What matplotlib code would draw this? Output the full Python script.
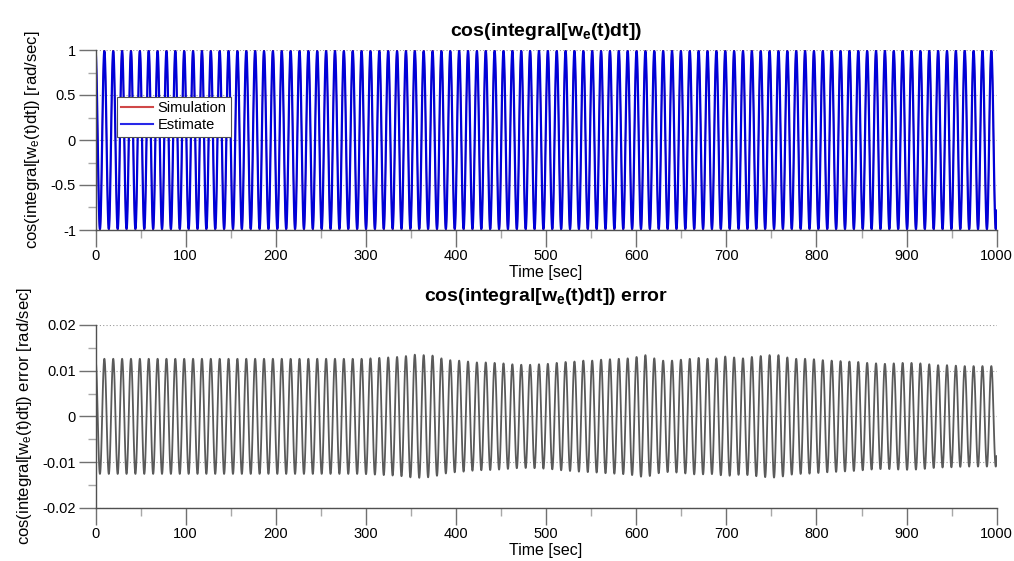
import numpy as np
import matplotlib
matplotlib.use("Agg")
import matplotlib.pyplot as plt
from matplotlib.ticker import MultipleLocator, FormatStrFormatter

plt.rcParams['font.family'] = ['Liberation Sans', 'DejaVu Sans']
plt.rcParams['mathtext.default'] = 'regular'
plt.rcParams['axes.unicode_minus'] = False
plt.rcParams['path.simplify'] = False

# Electrical speed (rad/s) driving the phase, and simulation length
omega_e = 0.6384
t_end = 1000.0

# Peak amplitude of the cos error, one value per electrical cycle
err_amp = [
    0.0126, 0.0126, 0.0126, 0.0126, 0.0126, 0.0126, 0.0126, 0.0126, 0.0126, 0.0126,
    0.0126, 0.0126, 0.0126, 0.0126, 0.0126, 0.0126, 0.0126, 0.0126, 0.0126, 0.0126,
    0.0126, 0.0126, 0.0126, 0.0126, 0.0126, 0.0126, 0.0126, 0.0126, 0.0126, 0.0126,
    0.0126, 0.0127, 0.0128, 0.0129, 0.0130, 0.0132, 0.0135, 0.0134, 0.0133, 0.0127,
    0.0123, 0.0122, 0.0120, 0.0118, 0.0118, 0.0117, 0.0116, 0.0114, 0.0113, 0.0113,
    0.0114, 0.0115, 0.0117, 0.0119, 0.0120, 0.0122, 0.0122, 0.0124, 0.0125, 0.0126,
    0.0127, 0.0130, 0.0134, 0.0127, 0.0122, 0.0122, 0.0124, 0.0126, 0.0128, 0.0126,
    0.0127, 0.0131, 0.0129, 0.0127, 0.0130, 0.0132, 0.0134, 0.0134, 0.0129, 0.0126,
    0.0126, 0.0125, 0.0123, 0.0122, 0.0121, 0.0120, 0.0119, 0.0117, 0.0116, 0.0115,
    0.0116, 0.0117, 0.0117, 0.0116, 0.0114, 0.0112, 0.0112, 0.0111, 0.0110, 0.0110,
    0.0110, 0.0110,
]

legend_labels = ['Simulation', 'Estimate']
x_ticks_major = 100
x_ticks_minor = 50

# Time base and phase = integral of w_e
t = np.linspace(0.0, t_end, 20001)
theta = np.concatenate([[0.0], np.cumsum(np.full(len(t) - 1, omega_e) * np.diff(t))])
peak_t = np.arange(len(err_amp)) * 2 * np.pi / omega_e
amp = np.interp(t, peak_t, err_amp)

sim = np.cos(theta)
err = amp * np.cos(theta)
est = sim - err

W, H = 1014, 561
fig = plt.figure(figsize=(W / 100, H / 100), dpi=100)

def px_axes(x0, y0, x1, y1):
    return fig.add_axes([x0 / W, 1 - y1 / H, (x1 - x0) / W, (y1 - y0) / H])

ax1 = px_axes(95.5, 50, 996.7, 230)
ax2 = px_axes(95.5, 325, 996.7, 507.7)

def style(ax, ymaj, ymin, fmt):
    for s in ('top', 'right'):
        ax.spines[s].set_visible(False)
    for s in ('left', 'bottom'):
        ax.spines[s].set_color('#505050')
        ax.spines[s].set_linewidth(1.0)
    ax.set_xlim(0, t_end)
    ax.xaxis.set_major_locator(MultipleLocator(x_ticks_major))
    ax.xaxis.set_minor_locator(MultipleLocator(x_ticks_minor))
    ax.yaxis.set_major_locator(MultipleLocator(ymaj))
    ax.yaxis.set_minor_locator(MultipleLocator(ymin))
    ax.yaxis.set_major_formatter(FormatStrFormatter(fmt))
    ax.tick_params(which='major', direction='out', length=12, width=1.0,
                   color='#707070', labelsize=10.5, pad=2)
    ax.tick_params(which='minor', direction='out', length=6, width=1.0,
                   color='#a8a8a8')
    ax.grid(True, axis='y', which='major', linestyle=(0, (1, 2)),
            color='#9a9a9a', linewidth=0.8)
    ax.set_axisbelow(True)

# Upper panel: simulated vs estimated cos of the electrical angle
ax1.plot(t, sim, color='#cc2a2a', linewidth=0.9, label=legend_labels[0])
ax1.plot(t, est, color='#0000d8', linewidth=1.6, label=legend_labels[1])
ax1.set_ylim(-1, 1)
style(ax1, 0.5, 0.25, '%g')
ax1.set_title('cos(integral[w$_e$(t)dt])', fontsize=14, fontweight='bold', pad=10)
ax1.set_xlabel('Time [sec]', fontsize=11.5, labelpad=1)
ax1.set_ylabel('cos(integral[w$_e$(t)dt]) [rad/sec]', fontsize=12, labelpad=6)
leg = ax1.legend(loc='upper left', bbox_to_anchor=(21.5 / 901, 1 - 47 / 180),
                 fontsize=10.5, frameon=True, fancybox=False, framealpha=1,
                 edgecolor='#505050', borderpad=0.3, handlelength=2.2,
                 handletextpad=0.3, labelspacing=0.2, borderaxespad=0)
leg.get_frame().set_linewidth(0.8)
for h, c in zip(leg.get_lines(), ['#d04848', '#2828e8']):
    h.set_color(c)
    h.set_linewidth(1.5)

# Lower panel: estimation error
ax2.plot(t, err, color='#5a5a5a', linewidth=1.3)
ax2.set_ylim(-0.02, 0.02)
style(ax2, 0.01, 0.005, '%g')
ax2.set_title('cos(integral[w$_e$(t)dt]) error', fontsize=14, fontweight='bold', pad=17)
ax2.set_xlabel('Time [sec]', fontsize=11.5, labelpad=1)
ax2.set_ylabel('cos(integral[w$_e$(t)dt]) error [rad/sec]', fontsize=12, labelpad=6)

fig.savefig('out.png', dpi=100)
